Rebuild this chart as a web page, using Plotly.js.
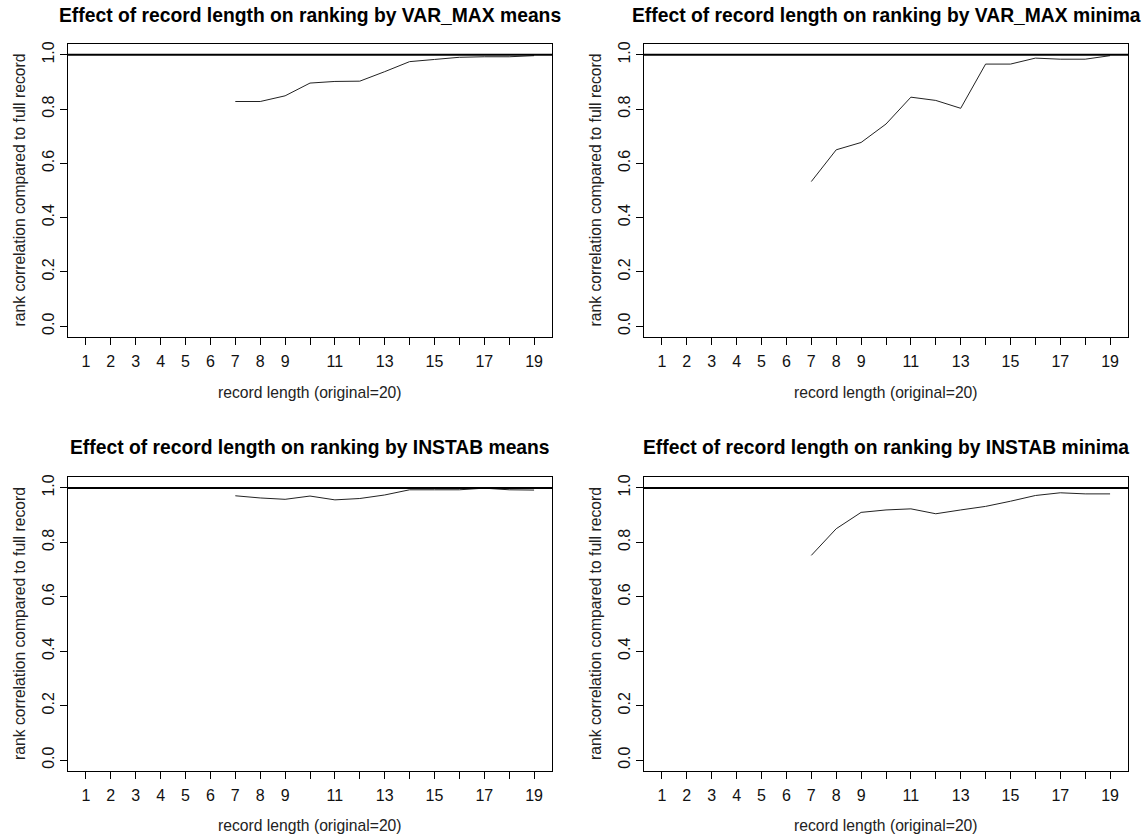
<!DOCTYPE html>
<html>
<head>
<meta charset="utf-8">
<script src="https://cdn.plot.ly/plotly-3.0.1.min.js"></script>
<style>html,body{margin:0;padding:0;background:#fff;}#chart{width:1143px;height:835px;}</style>
</head>
<body>
<div id="chart"></div>
<script>
// ---- data ----
const recordLength = [7, 8, 9, 10, 11, 12, 13, 14, 15, 16, 17, 18, 19];
const varmaxMeans  = [0.828, 0.828, 0.849, 0.896, 0.902, 0.903, 0.938, 0.975, 0.983, 0.991, 0.993, 0.993, 0.997];
const varmaxMinima = [0.533, 0.650, 0.677, 0.745, 0.844, 0.832, 0.803, 0.966, 0.966, 0.988, 0.984, 0.984, 0.997];
const instabMeans  = [0.971, 0.963, 0.958, 0.970, 0.956, 0.961, 0.974, 0.993, 0.993, 0.993, 0.999, 0.993, 0.992];
const instabMinima = [0.752, 0.850, 0.910, 0.919, 0.923, 0.905, 0.919, 0.932, 0.951, 0.972, 0.982, 0.978, 0.978];
const panelTitles = [
  "Effect of record length on ranking by VAR_MAX means",
  "Effect of record length on ranking by VAR_MAX minima",
  "Effect of record length on ranking by INSTAB means",
  "Effect of record length on ranking by INSTAB minima"
];
const xTickVals = [1,2,3,4,5,6,7,8,9,10,11,12,13,14,15,16,17,18,19];
const xTickText = ["1","2","3","4","5","6","7","8","9","","11","","13","","15","","17","","19"];
const yTickVals = [0, 0.2, 0.4, 0.6, 0.8, 1.0];
const yTickText = ["0.0","0.2","0.4","0.6","0.8","1.0"];
const xTitle = "record length (original=20)";
const yTitle = "rank correlation compared to full record";
const referenceLevel = 1.0;

// ---- layout geometry ----
const W = 1143, H = 835;
const colDomains = [[68/W, 552/W], [644/W, 1128/W]];
const rowDomains = [[1-337/H, 1-44/H], [1-771/H, 1-477/H]];
const series = [varmaxMeans, varmaxMinima, instabMeans, instabMinima];
const FONT = "Liberation Sans, Arial, sans-serif";

const traces = [];
const layout = {
  width: W, height: H,
  margin: {l:0, r:0, t:0, b:0},
  paper_bgcolor: "#fff", plot_bgcolor: "#fff",
  showlegend: false,
  font: {family: FONT, size: 16, color: "#000"},
  annotations: [], shapes: []
};

for (let i = 0; i < 4; i++) {
  const row = Math.floor(i / 2), col = i % 2;
  const n = i === 0 ? "" : String(i + 1);
  const xa = "x" + n, ya = "y" + n;
  traces.push({
    x: recordLength, y: series[i], xaxis: xa, yaxis: ya,
    type: "scatter", mode: "lines",
    line: {color: "#222", width: 1}, hoverinfo: "skip"
  });
  layout["xaxis" + n] = {
    domain: colDomains[col], anchor: ya, range: [0.28, 19.72],
    tickmode: "array", tickvals: xTickVals, ticktext: xTickText,
    ticks: "outside", ticklen: 7, tickwidth: 1, tickcolor: "#000",
    showline: true, mirror: true, linecolor: "#000", linewidth: 1,
    showgrid: false, zeroline: false,
    tickfont: {family: FONT, size: 16, color: "#111"}, ticklabelstandoff: 3
  };
  layout["yaxis" + n] = {
    domain: rowDomains[row], anchor: xa, range: [-0.04, 1.04],
    tickmode: "array", tickvals: yTickVals, ticktext: yTickText,
    ticks: "outside", ticklen: 7, tickwidth: 1, tickcolor: "#000",
    tickangle: -90,
    showline: true, mirror: true, linecolor: "#000", linewidth: 1,
    showgrid: false, zeroline: false,
    tickfont: {family: FONT, size: 16, color: "#111"}
  };
  layout.shapes.push({
    type: "line", xref: xa + " domain", yref: ya,
    x0: 0, x1: 1, y0: referenceLevel, y1: referenceLevel,
    line: {color: "#000", width: 2}
  });
  const cx = (colDomains[col][0] + colDomains[col][1]) / 2;
  const cy = (rowDomains[row][0] + rowDomains[row][1]) / 2;
  layout.annotations.push({
    xref: "paper", yref: "paper", x: cx, y: row === 0 ? 1 - 16/H : 1 - 447/H,
    xanchor: "center", yanchor: "middle", showarrow: false,
    text: "<b>" + panelTitles[i] + "</b>",
    font: {family: FONT, size: 19.3, color: "#000"}
  });
  layout.annotations.push({
    xref: "paper", yref: "paper", x: cx, y: row === 0 ? 1 - 392/H : 1 - 825/H,
    xanchor: "center", yanchor: "middle", showarrow: false,
    text: xTitle, font: {family: FONT, size: 15.7, color: "#222"}
  });
  layout.annotations.push({
    xref: "paper", yref: "paper", x: col === 0 ? 19/W : 595/W, y: cy,
    xanchor: "center", yanchor: "middle", showarrow: false, textangle: -90,
    text: yTitle, font: {family: FONT, size: 15.7, color: "#222"}
  });
}

Plotly.newPlot("chart", traces, layout, {staticPlot: true, displayModeBar: false});
</script>
</body>
</html>
